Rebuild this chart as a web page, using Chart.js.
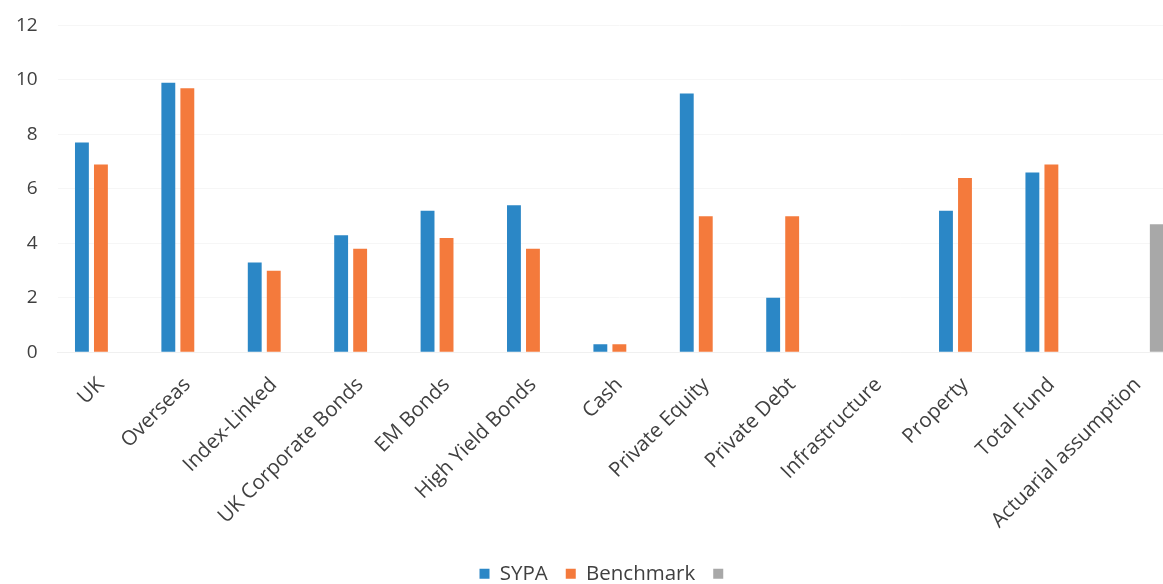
<!DOCTYPE html>
<html>
<head>
<meta charset="utf-8">
<script src="https://cdn.jsdelivr.net/npm/chart.js@4"></script>
<style>
  html, body { margin: 0; padding: 0; background: #fff; overflow: hidden; }
  #wrap { width: 1189px; height: 594px; margin-left: -4px; position: relative; }
</style>
</head>
<body>
<div id="wrap"><canvas id="returns-chart"></canvas></div>
<script>
var categories = ["UK", "Overseas", "Index-Linked", "UK Corporate Bonds", "EM Bonds",
    "High Yield Bonds", "Cash", "Private Equity", "Private Debt", "Infrastructure",
    "Property", "Total Fund", "Actuarial assumption"];
var sypa = [7.7, 9.9, 3.3, 4.3, 5.2, 5.4, 0.3, 9.5, 2.0, null, 5.2, 6.6, null];
var benchmark = [6.9, 9.7, 3.0, 3.8, 4.2, 3.8, 0.3, 5.0, 5.0, null, 6.4, 6.9, null];
var actuarial = [null, null, null, null, null, null, null, null, null, null, null, null, 4.7];

var fontFamily = "'Open Sans', 'Noto Sans', sans-serif";
var textColor = "#404040";

// the original legend sits a little right of centre (chart was cropped on the right)
var legendShift = {
    id: "legendShift",
    afterLayout: function (chart) {
        chart.legend.left += 18;
        chart.legend.right += 18;
    },
};

var chartCanvas = document.getElementById("returns-chart");

var returnsChart = new Chart(chartCanvas, {
    type: "bar",
    data: {
        labels: categories,
        datasets: [
            { label: "SYPA", data: sypa, backgroundColor: "#2b87c6" },
            { label: "Benchmark", data: benchmark, backgroundColor: "#f47a3c" },
            { label: "", data: actuarial, backgroundColor: "#a8a8a8" },
        ],
    },
    plugins: [legendShift],
    options: {
        responsive: true,
        maintainAspectRatio: false,
        animation: false,
        datasets: {
            bar: {
                categoryPercentage: 0.66,
                barPercentage: 0.73,
            },
        },
        layout: {
            padding: { top: 25.5, left: 0, right: 4, bottom: 0 },
        },
        plugins: {
            tooltip: { enabled: false },
            legend: {
                display: true,
                position: "bottom",
                labels: {
                    boxWidth: 10,
                    boxHeight: 10,
                    padding: 18,
                    color: textColor,
                    font: { family: fontFamily, size: 20.5 },
                },
            },
        },
        scales: {
            x: {
                grid: { display: false },
                border: { display: true, color: "#f0f0f0" },
                ticks: {
                    minRotation: 45,
                    maxRotation: 45,
                    autoSkip: false,
                    color: textColor,
                    padding: 12.5,
                    font: { family: fontFamily, size: 20.5 },
                },
            },
            y: {
                min: 0,
                max: 12,
                grid: { color: "#f6f6f6", drawTicks: false },
                border: { display: false },
                ticks: {
                    stepSize: 2,
                    padding: 20,
                    color: textColor,
                    font: { family: fontFamily, size: 19 },
                },
                afterFit: function (axis) {
                    axis.paddingTop = 0;
                },
            },
        },
    },
});
</script>
</body>
</html>
